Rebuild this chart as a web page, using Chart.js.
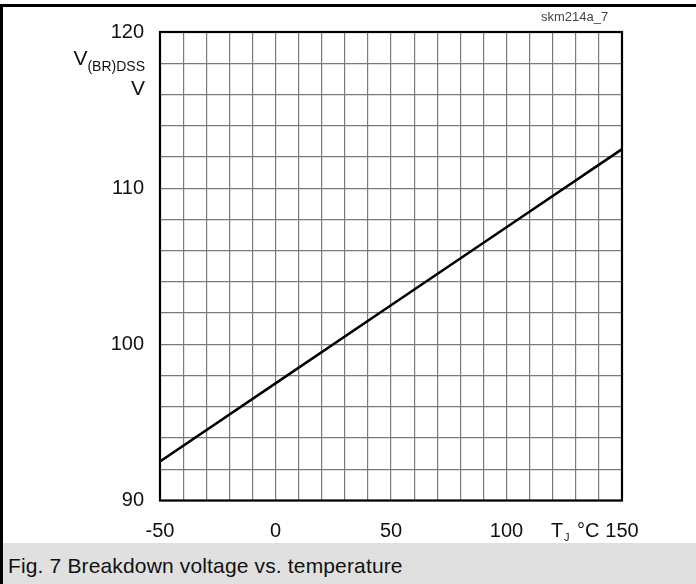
<!DOCTYPE html>
<html>
<head>
<meta charset="utf-8">
<script src="https://cdn.jsdelivr.net/npm/chart.js@4.4.1/dist/chart.umd.min.js"></script>
<style>
  html, body { margin: 0; padding: 0; background: #fff; }
  #wrap { position: relative; width: 696px; height: 584px; overflow: hidden; }
  #chart { position: absolute; left: 0; top: 0; }
  .edge { position: absolute; background: #000; }
  #caption {
    position: absolute; left: 3px; top: 543px; width: 693px; height: 41px;
    background: #e0e0e0; color: #111;
    font: 21px "Liberation Sans", Arial, sans-serif;
    line-height: 41px; padding: 2px 0 0 5px; box-sizing: border-box;
    letter-spacing: 0.15px;
  }
</style>
</head>
<body>
<div id="wrap">
  <canvas id="chart" width="696" height="543"></canvas>
  <div class="edge" style="left:0;top:4px;width:696px;height:3px"></div>
  <div class="edge" style="left:0;top:4px;width:3px;height:580px"></div>
  <div id="caption">Fig. 7 Breakdown voltage vs. temperature</div>
</div>
<script>
// ========== Data ==========
const tempC = [-50, 0, 50, 100, 150];
const vBrDss = [92.5, 97.5, 102.5, 107.5, 112.5];
const xTickLabels = [-50, 0, 50, 100, 150];
const yTickLabels = [90, 100, 110, 120];

const FONT = '"Liberation Sans", Arial, sans-serif';

// axis titles, figure id and plot frame
const decorations = {
  id: 'decorations',
  afterDraw(chart) {
    const ctx = chart.ctx;
    const a = chart.chartArea;
    ctx.save();
    ctx.fillStyle = '#111';
    ctx.textBaseline = 'alphabetic';

    // y title: V(BR)DSS / V
    ctx.textAlign = 'right';
    ctx.font = '14px ' + FONT;
    const sub = '(BR)DSS';
    const subW = ctx.measureText(sub).width;
    ctx.fillText(sub, 145, 71);
    ctx.font = '21px ' + FONT;
    ctx.fillText('V', 145 - subW, 65);
    ctx.fillText('V', 145, 95);

    // x title: TJ °C
    ctx.textAlign = 'left';
    ctx.font = '20px ' + FONT;
    ctx.fillText('T', 551, 537);
    ctx.font = '11px ' + FONT;
    ctx.fillText('J', 564, 541);
    ctx.font = '20px ' + FONT;
    ctx.fillText('°C', 577, 537);

    // drawing id
    ctx.fillStyle = '#444';
    ctx.font = '13px ' + FONT;
    ctx.fillText('skm214a_7', 541, 21);

    // plot frame
    ctx.strokeStyle = '#000';
    ctx.lineWidth = 2.2;
    ctx.strokeRect(a.left, a.top, a.right - a.left, a.bottom - a.top);
    ctx.restore();
  }
};

const points = tempC.map((t, i) => ({ x: t, y: vBrDss[i] }));

new Chart(document.getElementById('chart'), {
  type: 'line',
  data: {
    datasets: [{
      data: points,
      borderColor: '#000',
      borderWidth: 2.5,
      pointRadius: 0,
      tension: 0
    }]
  },
  options: {
    responsive: false,
    animation: false,
    devicePixelRatio: 1,
    layout: { padding: { top: 32, right: 74, left: 0, bottom: 0 } },
    plugins: { legend: { display: false }, tooltip: { enabled: false } },
    scales: {
      x: {
        type: 'linear',
        min: -50,
        max: 150,
        afterFit: s => { s.height = 42.5; },
        ticks: {
          stepSize: 10,
          autoSkip: false,
          maxRotation: 0,
          padding: 19,
          color: '#111',
          font: { family: FONT, size: 20 },
          callback: v => xTickLabels.includes(v) ? String(v) : ''
        },
        grid: { color: '#7a7a7a', lineWidth: 1.2, drawTicks: false },
        border: { display: false }
      },
      y: {
        type: 'linear',
        min: 90,
        max: 120,
        afterFit: s => { s.width = 160; },
        ticks: {
          stepSize: 2,
          autoSkip: false,
          padding: 16,
          color: '#111',
          font: { family: FONT, size: 20 },
          callback: v => yTickLabels.includes(v) ? String(v) : ''
        },
        grid: { color: '#7a7a7a', lineWidth: 1.2, drawTicks: false },
        border: { display: false }
      }
    }
  },
  plugins: [decorations]
});
</script>
</body>
</html>
